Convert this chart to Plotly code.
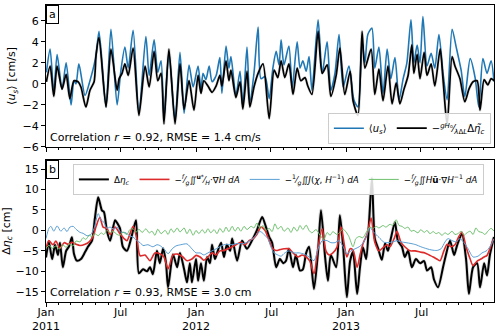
import pandas as pd
import plotly.graph_objects as go
from plotly.subplots import make_subplots

START = pd.Timestamp('2011-01-01')

# (days since 2011-01-01, value)
A_US = [(1,1.1),(10,3.3),(19,-0.9),(27,2.8),(39,-0.5),(49,2.0),(61,-2.0),(68,0.3),(73,0.0),(80,1.9),
        (95,-1.1),(107,0.3),(117,1.8),(122,2.8),(129,5.0),(146,-2.2),(158,5.2),(173,-2.0),(182,1.2),(192,3.5),
        (200,1.5),(212,5.1),(226,-2.8),(243,4.5),(251,0.8),(263,4.2),(272,1.1),(280,2.2),(287,-3.3),(299,3.0),
        (314,-3.5),(326,3.0),(336,-2.8),(348,1.8),(358,-0.3),(370,1.7),(377,-0.6),(382,1.0),(389,0.4),(397,1.7),
        (404,0.2),(414,0.8),(423,2.5),(428,-0.9),(438,3.6),(445,1.5),(450,2.6),(462,-1.1),(472,1.2),(479,-2.2),
        (489,3.5),(496,-1.7),(506,1.0),(516,5.4),(523,0.5),(533,0.7),(543,-1.4),(552,1.5),(560,3.1),(567,1.8),
        (572,4.2),(579,1.8),(591,3.6),(599,-0.4),(611,4.0),(618,1.5),(625,2.2),(633,1.2),(640,2.6),(647,-0.6),
        (662,6.1),(672,1.0),(684,4.0),(693,-0.6),(703,1.0),(713,4.7),(723,-0.3),(737,1.7),(749,-1.5),(759,-2.2),
        (769,4.0),(776,2.0),(783,4.7),(793,5.3),(800,1.5),(810,3.5),(820,-0.9),(830,3.3),(839,0.5),(849,2.5),
        (859,-1.5),(869,0.5),(878,2.0),(888,6.1),(895,2.0),(903,3.7),(910,2.0),(917,6.4),(927,1.7),(937,2.9),
        (946,1.5),(956,4.7),(966,1.0),(976,-1.5),(988,5.2),(998,3.5),(1010,1.3),(1019,-1.2),(1032,2.4),(1044,0.6),
        (1053,-2.2),(1063,2.4),(1073,1.0),(1083,2.2),(1090,0.2)]

A_ETA = [(1,0.2),(10,1.7),(19,-1.2),(27,1.7),(39,-0.5),(49,0.9),(58,-1.4),(68,0.3),(78,0.2),(85,-0.3),
         (97,-2.2),(107,-0.6),(117,0.2),(122,2.8),(129,4.4),(146,-2.2),(158,3.3),(173,-0.6),(178,0.5),(185,1.0),
         (192,1.9),(200,0.8),(212,3.4),(226,-3.0),(241,1.7),(251,-0.3),(263,3.1),(272,0.3),(280,1.0),(287,-3.8),
         (299,3.3),(314,-3.8),(326,1.9),(336,-2.4),(348,0.3),(360,-2.5),(370,0.8),(377,-0.9),(384,0.3),(394,-0.2),
         (404,-0.8),(414,-0.2),(423,0.8),(428,-0.2),(438,2.2),(445,0.3),(450,1.3),(462,-1.3),(472,0.2),(479,-2.4),
         (489,1.2),(496,-2.2),(506,-0.3),(516,1.0),(528,1.9),(543,-3.3),(555,1.3),(564,0.6),(572,2.2),(581,0.6),
         (591,1.9),(601,-1.0),(611,1.5),(620,0.3),(630,0.6),(637,-0.2),(647,-1.0),(662,5.0),(672,1.0),(684,1.8),
         (693,-1.2),(706,0.8),(715,3.4),(727,-1.0),(740,1.2),(747,-1.6),(759,-3.0),(769,5.0),(776,1.5),(791,3.3),
         (800,-1.0),(810,1.4),(820,-1.6),(832,1.7),(842,-1.9),(852,0.1),(861,-1.9),(871,-0.5),(881,0.8),(890,3.7),
         (895,1.0),(903,2.8),(910,0.5),(920,3.0),(927,0.8),(937,1.9),(946,-0.2),(959,3.3),(966,0.4),(976,-3.9),
         (988,2.6),(995,1.7),(1007,0.5),(1019,-1.7),(1029,-0.5),(1039,0.2),(1049,0.3),(1056,-2.5),(1066,0.4),
         (1075,-0.1),(1083,0.5),(1090,0.3)]

B_ETA = [(0,-6.6),(7,-2.9),(15,-7.0),(22,-3.5),(29,-6.0),(34,-3.0),(41,-9.0),(49,-5.0),(56,-3.9),(63,-1.7),
         (68,-5.7),(75,-7.4),(85,-7.0),(95,-5.3),(102,-4.0),(112,-2.5),(119,3.0),(127,8.1),(136,4.9),(141,4.5),
         (148,0.0),(156,-2.5),(168,2.5),(175,1.5),(180,0.5),(187,-4.0),(197,-5.0),(207,-2.0),(219,2.5),(226,-10.5),
         (236,-9.5),(246,-10.0),(253,-9.0),(260,-10.7),(270,-5.0),(277,-8.0),(285,-4.4),(292,-8.0),(297,-13.9),
         (309,-5.9),(319,-9.0),(326,-5.5),(336,-9.5),(343,-12.7),(350,-8.0),(355,-12.7),(365,-7.0),(370,-12.3),
         (377,-8.0),(384,-12.3),(392,-6.5),(399,-8.0),(404,-3.5),(411,-7.0),(418,-5.0),(426,-3.0),(433,-6.5),
         (440,-3.5),(448,-5.0),(453,-2.0),(465,-7.4),(477,-2.5),(489,-4.5),(501,-2.5),(513,0.0),(526,3.3),(533,1.5),
         (543,-1.6),(550,-3.0),(560,-9.0),(569,-7.0),(577,-8.0),(584,-7.4),(591,-4.5),(601,-9.0),(608,-6.0),
         (618,-9.8),(625,-9.5),(633,-5.5),(640,-4.0),(652,-14.3),(662,-5.0),(669,4.9),(679,-6.5),(686,-12.3),
         (693,-6.0),(706,-9.0),(715,3.7),(723,-4.1),(732,-16.3),(740,-7.4),(747,-5.3),(757,-15.5),(764,-9.0),
         (771,-4.1),(779,-7.0),(786,2.0),(793,12.8),(800,-2.0),(808,-4.4),(817,-7.2),(825,-3.2),(832,-5.0),
         (839,-2.0),(849,2.0),(856,-2.5),(866,-4.0),(873,-6.5),(881,-5.0),(890,-9.0),(900,-7.0),(910,-8.0),
         (920,-7.5),(927,-9.8),(937,-9.0),(944,-12.0),(954,-13.9),(966,-9.0),(973,-6.0),(983,-2.5),(993,-6.0),
         (1000,-3.7),(1012,-0.8),(1022,-7.0),(1029,-15.5),(1039,-9.0),(1049,-8.0),(1056,-13.9),(1066,-8.0),
         (1073,-11.0),(1080,-6.0),(1090,-1.6)]

B_RED = [(0,-4.4),(7,-2.5),(17,-3.5),(24,-2.6),(34,-4.4),(44,-3.0),(54,-3.4),(63,-2.9),(73,-3.4),(83,-3.7),
         (95,-3.4),(105,-2.8),(114,-1.6),(122,1.0),(131,3.2),(139,0.8),(148,0.5),(156,-1.0),(168,0.8),(180,-0.8),
         (190,-2.0),(197,-2.5),(212,1.0),(221,-2.0),(229,-6.2),(241,-6.0),(253,-7.4),(265,-5.5),(277,-5.7),
         (287,-6.5),(297,-9.4),(309,-6.0),(321,-5.8),(333,-6.5),(343,-7.4),(355,-7.0),(365,-6.1),(375,-6.5),
         (384,-7.3),(394,-6.5),(404,-5.5),(414,-6.0),(423,-5.0),(433,-4.9),(443,-4.5),(453,-4.0),(462,-3.5),
         (474,-2.9),(484,-3.5),(494,-2.5),(504,-2.0),(513,-1.0),(523,0.8),(533,0.0),(543,-2.5),(552,-4.5),
         (560,-4.9),(569,-4.7),(579,-4.5),(591,-4.5),(603,-5.7),(613,-6.5),(623,-6.0),(633,-6.5),(642,-7.5),
         (652,-10.6),(662,-4.0),(672,0.4),(681,-5.0),(689,-6.0),(698,-5.5),(708,-4.1),(718,0.8),(725,-3.0),
         (732,-6.5),(740,-4.5),(747,-4.8),(757,-9.0),(764,-6.0),(771,-3.3),(781,-1.0),(791,3.0),(800,-2.9),
         (810,-5.0),(820,-4.2),(830,-3.5),(837,-4.0),(847,-2.0),(854,-0.2),(864,-3.0),(873,-4.0),(886,-5.0),
         (898,-5.0),(910,-5.3),(922,-5.5),(932,-6.0),(942,-6.5),(951,-7.0),(959,-7.4),(968,-5.0),(976,-3.4),
         (985,-4.0),(995,-3.5),(1002,-2.0),(1012,-0.4),(1022,-4.0),(1032,-7.0),(1039,-8.6),(1049,-7.5),
         (1058,-7.0),(1066,-6.5),(1073,-6.1),(1080,-4.5),(1088,-2.1)]

B_BLUE = [(0,-2.0),(7,0.5),(12,1.0),(19,-0.2),(27,1.1),(36,-0.2),(44,0.6),(51,-0.3),(58,0.8),(66,1.0),
          (73,0.3),(83,-0.5),(90,-0.7),(100,-1.3),(109,-1.0),(117,0.5),(127,4.1),(134,2.5),(141,2.0),(148,0.5),
          (156,0.8),(165,0.3),(173,0.8),(182,-0.5),(192,-0.5),(204,-1.3),(214,-1.8),(221,-2.5),(229,-3.0),
          (236,-3.7),(248,-3.5),(260,-4.0),(270,-3.5),(277,-3.7),(287,-4.5),(297,-5.7),(307,-4.5),(316,-3.8),
          (328,-3.5),(343,-3.3),(355,-4.5),(365,-5.5),(375,-5.5),(384,-6.0),(394,-5.5),(404,-5.0),(414,-4.5),
          (423,-4.0),(433,-3.5),(440,-3.4),(453,-3.5),(465,-3.2),(477,-3.3),(487,-3.0),(496,-2.5),(506,-1.8),
          (516,-0.5),(523,-0.3),(530,-1.0),(540,-2.0),(547,-4.0),(555,-5.5),(564,-6.0),(572,-6.3),(581,-5.5),
          (591,-5.0),(603,-5.5),(616,-5.5),(628,-5.8),(640,-6.5),(652,-7.4),(662,-4.5),(672,-2.5),(684,-2.5),
          (693,-3.0),(703,-3.0),(713,-2.5),(723,-4.0),(732,-5.7),(742,-5.0),(752,-4.5),(762,-4.0),(771,-3.2),
          (781,-1.0),(788,0.8),(796,-0.3),(805,-1.2),(815,-2.2),(822,-2.9),(832,-3.0),(844,-2.8),(854,-2.5),
          (864,-2.8),(876,-3.0),(888,-3.2),(900,-3.5),(912,-4.0),(927,-4.5),(939,-4.8),(951,-4.9),(961,-4.5),
          (971,-2.8),(978,-2.0),(988,-2.5),(998,-2.8),(1007,-2.0),(1017,-3.0),(1027,-4.5),(1039,-6.5),
          (1051,-6.3),(1061,-5.5),(1073,-4.9),(1083,-3.5),(1090,-2.0)]

B_GREEN = [(0,-4.4),(7,-3.6),(15,-4.4),(24,-3.8),(32,-4.6),(41,-3.5),(49,-4.2),(56,-3.3),(66,-3.8),(73,-2.6),
           (83,-2.8),(90,-1.8),(97,-2.2),(105,-1.2),(112,-1.5),(119,-0.8),(127,-1.3),(134,-0.6),(141,-1.0),
           (148,0.0),(156,-0.6),(163,-0.2),(173,-1.0),(180,-1.2),(187,-0.4),(197,-1.0),(204,0.2),(212,0.4),
           (219,-0.5),(226,0.3),(234,-0.5),(243,0.4),(251,-0.6),(258,-0.2),(265,-1.2),(272,0.3),(280,-0.8),
           (290,0.0),(297,-1.0),(304,0.4),(311,-0.5),(319,0.6),(326,-0.4),(336,0.6),(343,-0.8),(350,0.3),
           (358,-1.2),(365,0.0),(372,-0.8),(380,0.2),(387,-0.7),(394,0.4),(401,-0.6),(409,0.2),(416,-0.8),
           (423,0.5),(431,-0.5),(438,0.8),(445,-0.3),(453,1.0),(460,-0.2),(467,0.8),(474,-0.2),(482,1.0),
           (489,0.2),(499,1.0),(506,0.6),(513,1.8),(521,0.4),(528,1.2),(535,0.0),(543,0.5),(550,-0.3),(557,1.6),
           (564,0.3),(572,1.0),(579,-0.2),(589,0.6),(596,-0.5),(603,0.8),(611,-0.2),(618,1.2),(625,0.2),
           (633,1.3),(640,0.0),(647,-0.6),(657,0.2),(667,-1.2),(676,-2.2),(684,-0.5),(691,-1.2),(698,-0.3),
           (708,-1.0),(715,-0.4),(723,0.3),(730,-0.4),(737,-1.5),(747,-4.0),(754,-2.0),(762,-1.5),(771,-1.8),
           (779,-0.5),(788,0.8),(796,0.5),(803,1.0),(810,0.6),(820,1.2),(827,0.8),(837,1.5),(844,1.2),(852,2.6),
           (859,1.2),(866,1.0),(873,0.5),(881,0.8),(888,-0.2),(895,0.0),(905,-0.6),(912,0.2),(920,-0.5),
           (927,0.0),(934,-0.8),(942,-0.3),(949,-0.8),(956,-0.5),(963,-1.2),(971,-0.6),(978,-1.0),(988,-0.2),
           (995,-1.0),(1002,-0.8),(1010,-0.2),(1017,-1.2),(1024,-0.6),(1032,-0.2),(1039,-1.0),(1046,0.6),
           (1053,-0.3),(1061,-0.5),(1068,-1.0),(1075,-0.2),(1083,0.5),(1090,-0.2)]

TICK_DATES = ['2011-01-01', '2011-07-01', '2012-01-01', '2012-07-01', '2013-01-01', '2013-07-01']
TICK_TEXT = ['Jan<br>2011', 'Jul', 'Jan<br>2012', 'Jul', 'Jan<br>2013', 'Jul']

FONT = 'DejaVu Sans'
SPL = dict(shape='spline', smoothing=0.7)


def xy(series):
    d = [START + pd.Timedelta(days=t) for t, _ in series]
    v = [y for _, y in series]
    return d, v


fig = make_subplots(rows=2, cols=1, shared_xaxes=True, vertical_spacing=0.044)

# panel a
x, y = xy(A_US)
fig.add_trace(go.Scatter(x=x, y=y, mode='lines', line=dict(color='#1f77b4', width=1.6, **SPL),
                         name='⟨<i>u<sub>s</sub></i>⟩', legend='legend'), row=1, col=1)
x, y = xy(A_ETA)
fig.add_trace(go.Scatter(x=x, y=y, mode='lines', line=dict(color='rgba(0,0,0,0.12)', width=3, **SPL),
                         showlegend=False, hoverinfo='skip'), row=1, col=1)
fig.add_trace(go.Scatter(x=x, y=y, mode='lines', line=dict(color='black', width=1.7, **SPL),
                         name='−<sup><i>gH</i>₀</sup>⁄<sub><i>λ</i>Δ<i>L</i></sub>Δ<i>η̃<sub>c</sub></i>', legend='legend'),
              row=1, col=1)

# panel b
x, y = xy(B_ETA)
fig.add_trace(go.Scatter(x=x, y=y, mode='lines', line=dict(color='rgba(0,0,0,0.15)', width=3.5, **SPL),
                         showlegend=False, hoverinfo='skip'), row=2, col=1)
fig.add_trace(go.Scatter(x=x, y=y, mode='lines', line=dict(color='black', width=2, **SPL),
                         name='Δ<i>η<sub>c</sub></i>', legend='legend2'), row=2, col=1)
x, y = xy(B_RED)
fig.add_trace(go.Scatter(x=x, y=y, mode='lines', line=dict(color='#dd2a2a', width=1.6, **SPL),
                         name='−<sup><i>f</i></sup>⁄<sub><i>g</i></sub>∬<sup><b>u</b>*</sup>⁄<sub><i>H</i></sub>·∇<i>H dA</i>',
                         legend='legend2'), row=2, col=1)
x, y = xy(B_BLUE)
fig.add_trace(go.Scatter(x=x, y=y, mode='lines', line=dict(color='#5a9fd4', width=1, **SPL),
                         name='−<sup>1</sup>⁄<sub><i>g</i></sub>∬<i>J</i>(<i>χ</i>, <i>H</i><sup>−1</sup>) <i>dA</i>',
                         legend='legend2'), row=2, col=1)
x, y = xy(B_GREEN)
fig.add_trace(go.Scatter(x=x, y=y, mode='lines', line=dict(color='#6cc06c', width=1, **SPL),
                         name='−<sup><i>f</i></sup>⁄<sub><i>g</i></sub>∬<i>H</i><b>ū</b>·∇<i>H</i><sup>−1</sup> <i>dA</i>',
                         legend='legend2'), row=2, col=1)

xr = [START, START + pd.Timedelta(days=1090)]
minor_vals = pd.date_range('2011-01-01', '2013-12-01', freq='MS')
axis_common = dict(showline=True, linecolor='black', linewidth=1, mirror=True, showgrid=False, zeroline=False,
                   ticks='outside', ticklen=4, tickcolor='black', tickfont=dict(size=11, color='black'),
                   automargin=False)
for r in (1, 2):
    fig.update_xaxes(range=xr, tickmode='array', tickvals=TICK_DATES, showticklabels=False,
                     minor=dict(tickmode='array', tickvals=list(minor_vals), ticks='outside', ticklen=2, tickcolor='black'),
                     row=r, col=1, **axis_common)
fig.update_yaxes(range=[-6, 7.5], tickvals=[-6, -4, -2, 0, 2, 4, 6], row=1, col=1, **axis_common,
                 title=dict(text='⟨<i>u<sub>s</sub></i>⟩ [cm/s]', font=dict(size=11, color='black'), standoff=4))
fig.update_yaxes(range=[-17.5, 17.2], tickvals=[-15, -10, -5, 0, 5, 10, 15], row=2, col=1, **axis_common,
                 title=dict(text='Δ<i>η<sub>c</sub></i> [cm]', font=dict(size=11, color='black'), standoff=4))
fig.update_layout(yaxis=dict(domain=[0.522, 1.0]), yaxis2=dict(domain=[0.0, 0.478]))

# date tick labels, set tight under the lower axis
for d, t in zip(TICK_DATES, TICK_TEXT):
    fig.add_annotation(xref='x2', yref='paper', x=d, y=0, yshift=-3, xanchor='center', yanchor='top',
                       text=t, showarrow=False, font=dict(size=11, color='black'), borderpad=0)

fig.add_annotation(xref='paper', yref='paper', x=0, y=1, xanchor='left', yanchor='top', text='a', showarrow=False,
                   font=dict(size=11, color='black'), bordercolor='black', borderwidth=1, borderpad=2, bgcolor='white')
fig.add_annotation(xref='paper', yref='paper', x=0, y=0.478, xanchor='left', yanchor='top', text='b', showarrow=False,
                   font=dict(size=11, color='black'), bordercolor='black', borderwidth=1, borderpad=2, bgcolor='white')
fig.add_annotation(xref='paper', yref='paper', x=0.005, y=0.524, xanchor='left', yanchor='bottom', showarrow=False,
                   text='Correlation <i>r</i> = 0.92, RMSE = 1.4 cm/s', font=dict(size=11, color='black'))
fig.add_annotation(xref='paper', yref='paper', x=0.005, y=0.002, xanchor='left', yanchor='bottom', showarrow=False,
                   text='Correlation <i>r</i> = 0.93, RMSE = 3.0 cm', font=dict(size=11, color='black'))

fig.update_layout(
    width=500, height=333,
    margin=dict(l=46, r=6, t=5, b=31),
    paper_bgcolor='white', plot_bgcolor='white',
    font=dict(family=FONT, size=11, color='black'),
    legend=dict(x=0.993, y=0.533, xanchor='right', yanchor='bottom', orientation='h',
                bgcolor='rgba(255,255,255,0.85)', bordercolor='#cccccc', borderwidth=1,
                font=dict(size=10), itemwidth=30),
    legend2=dict(x=0.06, y=0.465, xanchor='left', yanchor='top', orientation='h',
                 bgcolor='rgba(255,255,255,0.85)', bordercolor='#cccccc', borderwidth=1,
                 font=dict(size=8.8), itemwidth=30),
    showlegend=True,
)

fig.write_html('out.html', config={'displayModeBar': False},
               post_script="document.body.style.margin='0px';")
